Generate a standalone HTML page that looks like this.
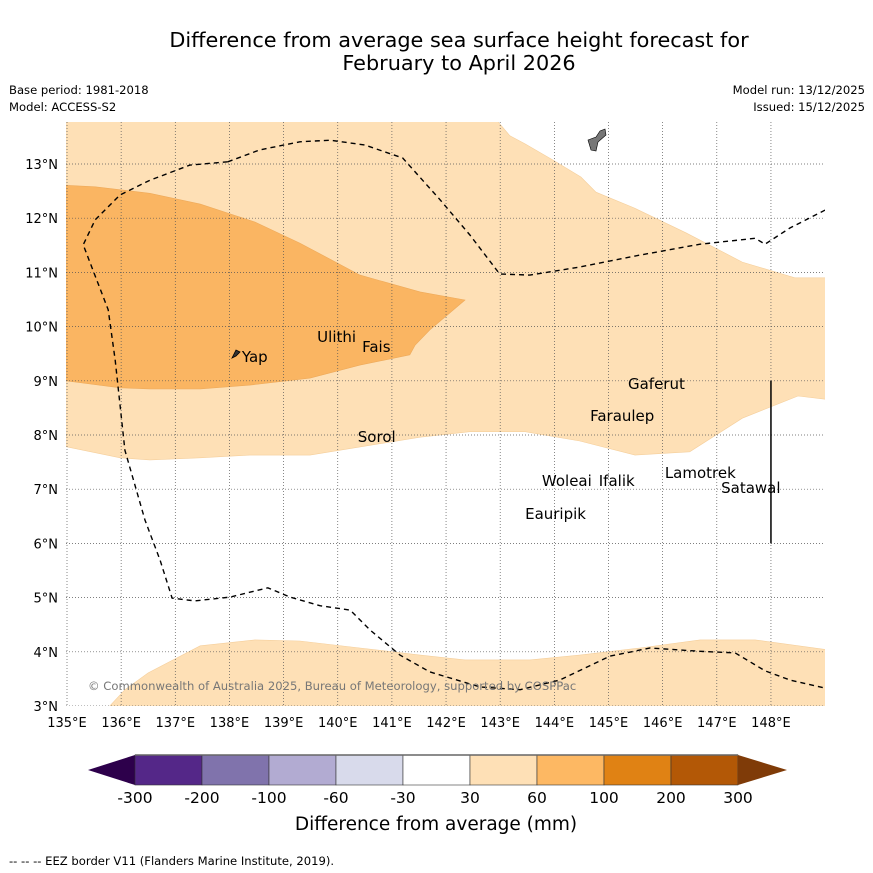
<!DOCTYPE html>
<html><head><meta charset="utf-8">
<style>
body{margin:0;background:#fff;font-family:"Liberation Sans","DejaVu Sans",sans-serif;}
svg{display:block}
</style></head>
<body>
<svg id="chart" width="873" height="873" viewBox="0 0 873 873">
<rect width="873" height="873" fill="#fff"/>
<text x="459" y="47" font-size="20.8" text-anchor="middle" font-family="DejaVu Sans, sans-serif">Difference from average sea surface height forecast for</text>
<text x="459" y="70" font-size="20.8" text-anchor="middle" font-family="DejaVu Sans, sans-serif">February to April 2026</text>
<g font-size="11.6" font-family="DejaVu Sans, sans-serif">
<text x="9" y="94">Base period: 1981-2018</text>
<text x="9" y="111">Model: ACCESS-S2</text>
<text x="865" y="94" text-anchor="end">Model run: 13/12/2025</text>
<text x="865" y="111" text-anchor="end">Issued: 15/12/2025</text>
</g>
<defs><clipPath id="clip"><rect x="66" y="122" width="759" height="584"/></clipPath></defs>
<g id="plot" clip-path="url(#clip)"></g>
<g id="axes"></g>
<g id="cbar"></g>
<text x="9" y="865" font-size="11.6" font-family="DejaVu Sans, sans-serif">--  --  -- EEZ border V11 (Flanders Marine Institute, 2019).</text>
</svg>
<script>
const lonTicks=[135,136,137,138,139,140,141,142,143,144,145,146,147,148];
const latTicks=[3,4,5,6,7,8,9,10,11,12,13];
const upperLightLon=[134.9,142.94,143.18,143.46,143.98,144.49,144.77,145.47,146.43,147.47,148.44,149.1,149.1,148.5,147.47,146.5,145.49,144.47,143.46,142.44,141.52,140.41,139.49,138.38,137.46,136.53,135.98,134.9];
const upperLightLat=[13.8,13.8,13.52,13.37,13.07,12.76,12.48,12.19,11.73,11.19,10.9,10.9,8.65,8.72,8.31,7.69,7.63,7.89,8.06,8.06,7.96,7.78,7.63,7.63,7.58,7.54,7.58,7.8];
const midLon=[134.9,135.52,136.53,137.46,138.47,139.30,140.41,141.52,142.35,141.70,141.43,141.33,140.41,139.49,138.38,137.46,136.53,135.98,134.9];
const midLat=[12.61,12.58,12.46,12.26,11.93,11.54,10.95,10.64,10.49,9.94,9.66,9.48,9.29,9.05,8.92,8.85,8.85,8.87,9.01];
const lowLightLon=[135.79,136.07,136.5,137.46,138.47,139.30,140.41,141.52,142.35,143.55,144.47,145.58,146.69,147.71,149.1,149.1,135.79];
const lowLightLat=[3.0,3.30,3.61,4.11,4.22,4.20,4.07,3.94,3.85,3.85,3.94,4.07,4.22,4.22,4.03,2.9,2.9];
const eezALon=[137.97,137.27,136.53,135.98,135.52,135.30,135.76,135.89,136.07,136.44,136.72,136.94,137.36,138.01,138.71,139.12,139.67,140.23,140.60,141.15,141.70,142.63,143.37,144.10,145.03,145.77,146.69,147.34,147.89,148.35,149.0];
const eezALat=[13.04,12.98,12.70,12.43,11.97,11.51,10.31,9.38,7.72,6.43,5.69,4.99,4.94,5.01,5.18,5.01,4.85,4.77,4.40,3.94,3.63,3.35,3.30,3.48,3.92,4.07,4.01,3.98,3.65,3.48,3.33];
const eezBLon=[137.97,138.56,139.30,139.86,140.50,141.20,141.89,142.44,142.99,143.55,144.47,145.58,146.69,147.71,147.89,148.35,149.0];
const eezBLat=[13.04,13.26,13.41,13.44,13.35,13.11,12.34,11.69,10.97,10.95,11.10,11.32,11.52,11.63,11.52,11.82,12.15];
const places=["Yap","Ulithi","Fais","Gaferut","Faraulep","Sorol","Woleai","Ifalik","Lamotrek","Satawal","Eauripik"];
const placeLon=[138.23,139.62,140.45,145.36,144.66,140.37,143.77,144.82,146.04,147.08,143.46];
const placeLat=[9.35,9.72,9.53,8.85,8.26,7.87,7.06,7.06,7.21,6.93,6.45];
const cbarTicks=["-300","-200","-100","-60","-30","30","60","100","200","300"];
const cbarColors=["#542788","#8073ac","#b2abd2","#d8daeb","#ffffff","#fee0b6","#fdb863","#e08214","#b35806"];

const NS='http://www.w3.org/2000/svg';
const X=lon=>67+(lon-135)*54.15;
const Y=lat=>164+(13-lat)*54.2;
function mk(tag,attrs,parent){const e=document.createElementNS(NS,tag);for(const k in attrs)e.setAttribute(k,attrs[k]);parent.appendChild(e);return e;}
const plot=document.getElementById('plot'),axes=document.getElementById('axes'),cb=document.getElementById('cbar');
function pts(lo,la){return lo.map((v,i)=>X(v).toFixed(1)+','+Y(la[i]).toFixed(1)).join(' ');}
let p;
p=mk('polygon',{points:pts(upperLightLon,upperLightLat),fill:'#fee0b6',stroke:'#f5cf9c','stroke-width':0.6},plot);

p=mk('polygon',{points:pts(midLon,midLat),fill:'#fab562',stroke:'#eeaa5a','stroke-width':0.6},plot);

p=mk('polygon',{points:pts(lowLightLon,lowLightLat),fill:'#fee0b6',stroke:'#f5cf9c','stroke-width':0.6},plot);

lonTicks.forEach(l=>{const g=mk('line',{x1:X(l),x2:X(l),y1:122,y2:706,stroke:'#555','stroke-width':0.7,'stroke-dasharray':'1,2'},plot);
});
latTicks.forEach(l=>{const g=mk('line',{x1:66,x2:825,y1:Y(l),y2:Y(l),stroke:'#555','stroke-width':0.7,'stroke-dasharray':'1,2'},plot);
});
[[eezALon,eezALat],[eezBLon,eezBLat]].forEach(a=>{const e=mk('polyline',{points:pts(a[0],a[1]),fill:'none',stroke:'#000','stroke-width':1.4,'stroke-dasharray':'5,4'},plot);
});
const vl=mk('line',{x1:X(148),x2:X(148),y1:Y(9),y2:Y(6),stroke:'#000','stroke-width':1.5},plot);

const guam=mk('path',{d:'M588,140 L596,137 L600,131 L605,129 L606,135 L598,142 L596,151 L591,150 Z',fill:'#777',stroke:'#000','stroke-width':0.6},plot);

const yap=mk('path',{d:'M232,358 L236,350 L240,352 L236,356 Z',fill:'#333',stroke:'#000','stroke-width':0.8},plot);

places.forEach((n,i)=>{const t=mk('text',{x:X(placeLon[i]),y:Y(placeLat[i]),'font-size':15,'font-family':'DejaVu Sans, sans-serif',fill:'#000'},plot);t.textContent=n;
});
const cp=mk('text',{x:88,y:690,'font-size':11.6,fill:'#777','font-family':'DejaVu Sans, sans-serif'},plot);
cp.textContent='© Commonwealth of Australia 2025, Bureau of Meteorology, supported by COSPPac';

lonTicks.forEach(l=>{const t=mk('text',{x:X(l),y:727,'font-size':13,'text-anchor':'middle','font-family':'DejaVu Sans, sans-serif'},axes);t.textContent=l+'°E';
});
latTicks.forEach(l=>{const t=mk('text',{x:58,y:Y(l)+5,'font-size':13,'text-anchor':'end','font-family':'DejaVu Sans, sans-serif'},axes);t.textContent=l+'°N';
});
const cx0=135,cw=67.0,cy=755,ch=30;
let tri=mk('polygon',{points:`88,770 ${cx0},${cy} ${cx0},${cy+ch}`,fill:'#2d004b'},cb);

cbarColors.forEach((c,i)=>{const r=mk('rect',{x:cx0+i*cw,y:cy,width:cw,height:ch,fill:c,stroke:'#333','stroke-width':0.6},cb);
});
const xe=cx0+cbarColors.length*cw;
tri=mk('polygon',{points:`${xe},${cy} 787,770 ${xe},${cy+ch}`,fill:'#7f3b08'},cb);

mk('line',{x1:cx0,x2:xe,y1:cy,y2:cy,stroke:'#666','stroke-width':1.5},cb);
cbarTicks.forEach((s,i)=>{const t=mk('text',{x:cx0+i*cw,y:803,'font-size':15.5,'text-anchor':'middle','font-family':'DejaVu Sans, sans-serif'},cb);t.textContent=s;
});
const ct=mk('text',{x:436,y:830,'font-size':18.5,'text-anchor':'middle','font-family':'DejaVu Sans, sans-serif'},cb);ct.textContent='Difference from average (mm)';

</script>
</body></html>
